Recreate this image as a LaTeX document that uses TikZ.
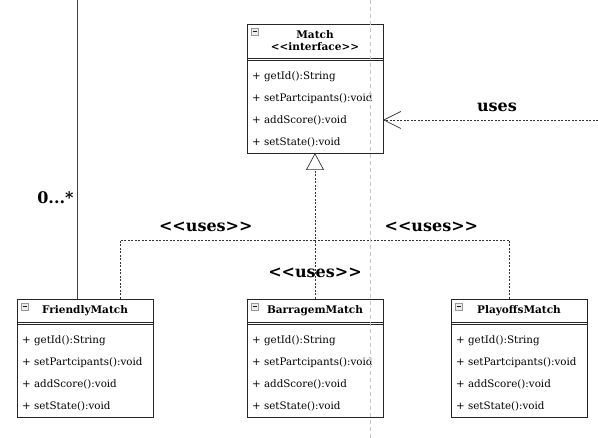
\documentclass[tikz,border=0pt]{standalone}
\usepackage{fontspec}
\setmainfont{DejaVu Serif}[Ligatures=TeXOff]
\usetikzlibrary{arrows.meta,positioning,fit}

\tikzstyle{classhead}=[rectangle,draw=black!85,fill=white,line width=0.9pt,outer sep=0pt,inner sep=0pt,minimum width=136pt,align=center,font=\fontsize{10.5}{12}\selectfont\bfseries]
\tikzstyle{classops}=[rectangle,draw=black!85,fill=white,line width=0.9pt,outer sep=0pt,inner xsep=5pt,inner ysep=0pt,text width=126pt,minimum height=93pt,align=left,font=\fontsize{10.3}{22}\selectfont,execute at begin node={\rule{0pt}{14pt}}]
\tikzstyle{classframe}=[rectangle,draw=black!85,line width=0.9pt,outer sep=0pt,inner sep=0pt]
\tikzstyle{icon}=[rectangle,draw=gray!80,fill=gray!15,line width=0.5pt,minimum size=7.5pt,inner sep=0pt,outer sep=0pt,
  path picture={\draw [gray!20!black,line width=0.6pt] ([xshift=1.5pt]path picture bounding box.west) -- ([xshift=-1.5pt]path picture bounding box.east);}]
\tikzstyle{umltext}=[inner sep=0pt,font=\fontsize{16}{18}\selectfont\bfseries]
\tikzstyle{realizes}=[-{Triangle[open,length=17pt,width=18pt]},line width=0.7pt,draw=black!80,dash pattern=on 2pt off 1.5pt]
\tikzstyle{uses}=[line width=0.7pt,draw=black!80,dash pattern=on 2pt off 1.5pt]
\tikzstyle{depends}=[-{Straight Barb[length=17pt,width=17pt]},line width=0.7pt,draw=black!80,dash pattern=on 2pt off 1.5pt]
\tikzstyle{assoc}=[line width=0.9pt,draw=black!75]
\tikzstyle{guide}=[line width=0.7pt,draw=gray!45,dash pattern=on 4pt off 3pt]

\begin{document}
\begin{tikzpicture}[x=1pt,y=-1pt]

\useasboundingbox (0,0) rectangle (598,438) ;

% interface
\node (match-head) [classhead,minimum height=34pt] at (315,41) {Match\\<<interface>>} ;
\node (match-ops) [classops,below=2pt of match-head] {+ getId():String\\+ setPartcipants():void\\+ addScore():void\\+ setState():void} ;
\node (match) [classframe,fit=(match-head)(match-ops)] {} ;
\node (match-icon) [icon,below right=4pt and 4pt of match-head.north west] {} ;

% classes
\node (friendly-head) [classhead,minimum height=23pt] at (85,310.5) {FriendlyMatch} ;
\node (friendly-ops) [classops,below=2pt of friendly-head] {+ getId():String\\+ setPartcipants():void\\+ addScore():void\\+ setState():void} ;
\node (friendly) [classframe,fit=(friendly-head)(friendly-ops)] {} ;
\node (friendly-icon) [icon,below right=4pt and 4pt of friendly-head.north west] {} ;

\node (barragem-head) [classhead,minimum height=23pt] at (315,310.5) {BarragemMatch} ;
\node (barragem-ops) [classops,below=2pt of barragem-head] {+ getId():String\\+ setPartcipants():void\\+ addScore():void\\+ setState():void} ;
\node (barragem) [classframe,fit=(barragem-head)(barragem-ops)] {} ;
\node (barragem-icon) [icon,below right=4pt and 4pt of barragem-head.north west] {} ;

\node (playoffs-head) [classhead,minimum height=23pt] at (519,310.5) {PlayoffsMatch} ;
\node (playoffs-ops) [classops,below=2pt of playoffs-head] {+ getId():String\\+ setPartcipants():void\\+ addScore():void\\+ setState():void} ;
\node (playoffs) [classframe,fit=(playoffs-head)(playoffs-ops)] {} ;
\node (playoffs-icon) [icon,below right=4pt and 4pt of playoffs-head.north west] {} ;

\coordinate (uses-join) at (315,240) ;
\coordinate (uses-end) at (598,120) ;
\coordinate (assoc-end) at (77,0) ;

\draw [realizes] (barragem) -- node [umltext,pos=0.144,anchor=base] {<<uses>>} (match) ;
\draw [uses] ([xshift=35pt]friendly.north) |- node [umltext,pos=0.72,above=8pt] {<<uses>>} (uses-join) ;
\draw [uses] ([xshift=-10pt]playoffs.north) |- node [umltext,pos=0.70,above=8pt] {<<uses>>} (uses-join) ;
\draw [depends] (uses-end) -- node [umltext,pos=0.47,above=8pt] {uses} (uses-end -| match.east) ;
\draw [assoc] (assoc-end) -- node [umltext,pos=0.681,anchor=base east,xshift=-3pt] {0...*} (assoc-end |- friendly.north) ;

% page break guide
\coordinate (guide-top) at (370,0) ;
\coordinate (guide-bottom) at (370,438) ;
\draw [guide] (guide-top) -- (guide-bottom) ;

\end{tikzpicture}
\end{document}
